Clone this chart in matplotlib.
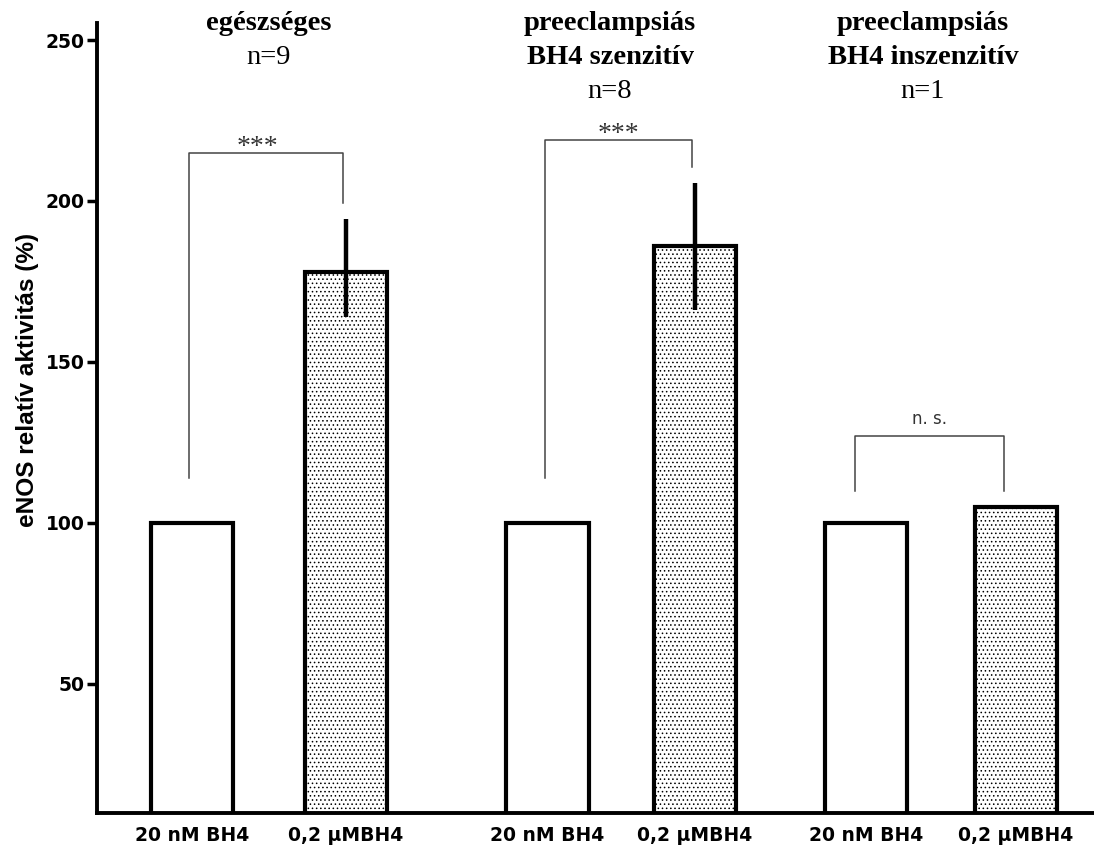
import matplotlib.pyplot as plt
import numpy as np

# data
groups = ['egészséges', 'preeclampsiás\nBH4 szenzitív', 'preeclampsiás\nBH4 inszenzitív']
group_n = ['n=9', 'n=8', 'n=1']
bar_labels = ['20 nM BH4', '0,2 μMBH4'] * 3
values = [100, 178, 100, 186, 100, 105]
err_up = [0, 16.5, 0, 19.5, 0, 0]
err_low = [0, 14, 0, 20, 0, 0]
sig_labels = ['***', '***', 'n. s.']
sig_levels = [215, 219, 127]

# layout (bar centres in bar-spacing units)
pos = np.array([0, 1.027, 2.37, 3.353, 4.493, 5.493])
width = 0.547

plt.rcParams['hatch.color'] = '#666666'
plt.rcParams['hatch.linewidth'] = 0.6

fig = plt.figure(figsize=(10.94, 8.5), dpi=100)
ax = fig.add_axes([0.0887, 0.0435, 0.9113, 0.9295])

for i, (x, v) in enumerate(zip(pos, values)):
    filled = i % 2 == 1
    ax.bar(x, v, width=width, facecolor='white', edgecolor='black', linewidth=3,
           hatch='....' if filled else None, zorder=2)
    if err_up[i] > 0:
        ax.vlines(x, v - err_low[i], v + err_up[i], color='black', linewidth=3.2, zorder=3)

# significance brackets
for g in range(3):
    l, r = 2 * g, 2 * g + 1
    lev = sig_levels[g]
    xl, xr = pos[l] - 0.02, pos[r] - 0.02
    if g == 2:
        xl, xr = pos[l] - 0.07, pos[r] - 0.08
    yl = values[l] + (14 if g < 2 else 10)
    yr = values[r] + err_up[r] + 5
    ax.plot([xl, xl, xr, xr], [yl, lev, lev, yr], color='#444444', linewidth=1.1, zorder=1)
    if g < 2:
        shift = -0.06 if g == 0 else 0
        ax.text((xl + xr) / 2 + shift, lev - 0.5, sig_labels[g], ha='center', va='baseline',
                fontsize=20, family='Liberation Serif', color='#333333')
    else:
        ax.text((xl + xr) / 2, lev + 2.5, sig_labels[g], ha='center', va='bottom',
                fontsize=12, family='DejaVu Sans', color='#333333')

# group titles
title_x = [0.513, 2.787, 4.873]
for g in range(3):
    lines = groups[g].split('\n')
    for k, t in enumerate(lines):
        ax.annotate(t, xy=(title_x[g], 1 - (23 + 34 * k) / 850), xycoords=('data', 'figure fraction'),
                    ha='center', va='center', fontsize=20.5, fontweight='bold',
                    family='Liberation Serif', annotation_clip=False)
    ax.annotate(group_n[g], xy=(title_x[g], 1 - (23 + 34 * len(lines)) / 850),
                xycoords=('data', 'figure fraction'), ha='center', va='center',
                fontsize=20.5, family='Liberation Serif', annotation_clip=False)

ax.set_xlim(-0.633, 6.013)
ax.set_ylim(9.8, 255.3)
ax.set_yticks([50, 100, 150, 200, 250])
ax.set_yticklabels(['50', '100', '150', '200', '250'], fontweight='bold', fontsize=13.5)
ax.tick_params(axis='y', direction='out', length=7, width=2.5, pad=2)
ax.set_xticks(pos)
ax.set_xticklabels(bar_labels, fontweight='bold', fontsize=13.5)
ax.tick_params(axis='x', length=0, pad=9)
ax.set_ylabel('eNOS relatív aktivitás (%)', fontweight='bold', fontsize=17.6,
              family='Liberation Sans')
ax.yaxis.set_label_coords(-0.058, 0.548)

for s in ['top', 'right']:
    ax.spines[s].set_visible(False)
for s in ['left', 'bottom']:
    ax.spines[s].set_linewidth(2.8)

fig.savefig('out.png', dpi=100)
